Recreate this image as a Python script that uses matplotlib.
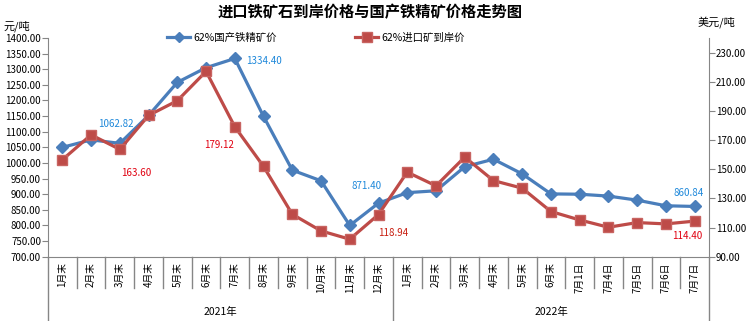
import matplotlib
matplotlib.use("Agg")
import matplotlib.pyplot as plt
import matplotlib.transforms as mtransforms

plt.rcParams['font.family'] = ['Noto Sans CJK SC', 'DejaVu Sans']

categories = ['1月末', '2月末', '3月末', '4月末', '5月末', '6月末', '7月末', '8月末', '9月末', '10月末', '11月末', '12月末',
              '1月末', '2月末', '3月末', '4月末', '5月末', '6月末', '7月1日', '7月4日', '7月5日', '7月6日', '7月7日']
groups = ['2021年', '2022年']
group_sizes = [12, 11]

domestic = [1050, 1074, 1062.82, 1152, 1258, 1305, 1334.40, 1149, 977, 943, 800, 871.40,
            905, 911, 988, 1012, 965, 901, 900, 894, 881, 863, 860.84]
imported = [156.5, 173.6, 163.60, 186.9, 197, 217.1, 179.12, 151.9, 119.1, 107.7, 102, 118.94,
            148, 138.6, 158.3, 142.2, 137, 121, 115.2, 110.2, 113.4, 112.5, 114.40]

domestic_labels = {2: '1062.82', 6: '1334.40', 11: '871.40', 22: '860.84'}
imported_labels = {2: '163.60', 6: '179.12', 11: '118.94', 22: '114.40'}

left_ticks = list(range(700, 1401, 50))
right_ticks = list(range(90, 231, 20))

blue = '#4A7EBB'
red = '#BE4B48'
grey = '#868686'
lblue = '#1E88DA'
lred = '#E00010'

fig = plt.figure(figsize=(7.52, 3.21), dpi=100)
W, H = 752, 321
x0, x1, y0, y1 = 48, 709, 38, 256.7
ax = fig.add_axes([x0 / W, 1 - y1 / H, (x1 - x0) / W, (y1 - y0) / H])
ax2 = ax.twinx()

xs = list(range(len(categories)))
l1, = ax.plot(xs, domestic, color=blue, lw=2.3, marker='D', ms=6, mfc=blue, mec=blue,
              label='62%国产铁精矿价', zorder=3)
l2, = ax2.plot(xs, imported, color=red, lw=2.3, marker='s', ms=7.5, mfc=red, mec='#C86461',
               label='62%进口矿到岸价', zorder=3)

ax.set_xlim(-0.5, len(categories) - 0.5)
ax.set_ylim(700, 1400)
ax2.set_ylim(90, 240)
ax.set_yticks(left_ticks)
ax.set_yticklabels([f'{v:.2f}' for v in left_ticks])
ax2.set_yticks(right_ticks)
ax2.set_yticklabels([f'{v:.2f}' for v in right_ticks])

for a in (ax, ax2):
    for s in a.spines.values():
        s.set_color(grey)
    a.spines['top'].set_visible(False)
ax2.spines['left'].set_visible(False)
ax2.spines['bottom'].set_visible(False)
ax.spines['right'].set_visible(False)

ax.tick_params(axis='y', labelsize=7, length=4, color=grey, pad=1)
ax2.tick_params(axis='y', labelsize=7, length=4, color=grey, pad=1)
ax.set_xticks(xs)
ax.set_xticklabels(categories, rotation=90, fontsize=7)
ax.tick_params(axis='x', length=0, pad=4)

trans = mtransforms.blended_transform_factory(ax.transData, ax.transAxes)
short = -(288 - y1) / (y1 - y0)
longd = -(H - y1) / (y1 - y0)
bounds = [-0.5]
for g in group_sizes:
    bounds.append(bounds[-1] + g)
group_edges = set(bounds)
for k in range(len(categories) + 1):
    xb = k - 0.5
    yb = longd if xb in group_edges else short
    ax.plot([xb, xb], [0, yb], transform=trans, color=grey, lw=1, clip_on=False)

gy = -(312 - y1) / (y1 - y0)
for i, g in enumerate(groups):
    cx = (bounds[i] + bounds[i + 1]) / 2
    ax.text(cx, gy, g, transform=trans, ha='center', va='center', fontsize=7.5)

dom_offs = {2: (-3, 14), 6: (21, -1.5), 11: (-8.5, 12.5), 22: (-4, 10)}
imp_offs = {2: (12, -17), 6: (-11, -13), 11: (10.5, -13), 22: (-5, -11)}
for i, t in domestic_labels.items():
    ax.annotate(t, (i, domestic[i]), xytext=dom_offs[i], textcoords='offset points',
                ha='center', va='center', fontsize=7, color=lblue)
for i, t in imported_labels.items():
    ax2.annotate(t, (i, imported[i]), xytext=imp_offs[i], textcoords='offset points',
                 ha='center', va='center', fontsize=7, color=lred if i != 11 else '#C81E10')

fig.text(370 / W, 1 - 12 / H, '进口铁矿石到岸价格与国产铁精矿价格走势图', ha='center', va='center',
         fontsize=11, fontweight='bold')
fig.text(4 / W, 1 - 26 / H, '元/吨', ha='left', va='center', fontsize=8)
fig.text(716 / W, 1 - 22 / H, '美元/吨', ha='center', va='center', fontsize=8)

fig.legend(handles=[l1, l2], loc='center', bbox_to_anchor=(316 / W, 1 - 38 / H), ncol=2,
           frameon=False, fontsize=7.5, handlelength=2.2, handletextpad=0.3, columnspacing=7.5,
           borderpad=0, markerscale=0.9)

fig.savefig('out.png', dpi=100)
